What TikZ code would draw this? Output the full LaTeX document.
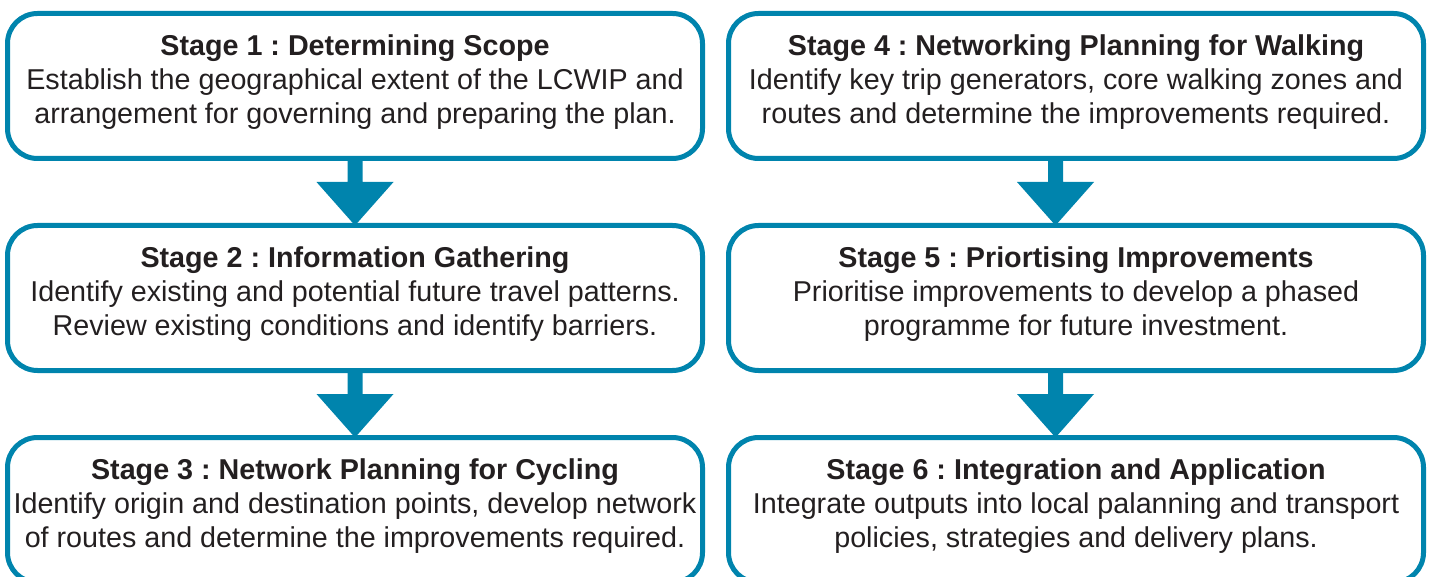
\documentclass[tikz,border=0pt]{standalone}
\usepackage{fontspec}
\setmainfont{Liberation Sans}
\frenchspacing
\usetikzlibrary{positioning,calc}
\definecolor{StageClr}{RGB}{0,132,173}
\definecolor{TextClr}{RGB}{35,31,32}

\tikzset{
  stagebox/.style={draw=StageClr,line width=5pt,rounded corners=30pt,
    minimum width=695pt,minimum height=145pt,outer sep=0pt,inner sep=0pt,
    align=center,text=TextClr,font=\fontsize{28.7}{34}\selectfont,
    execute at end node={\rule[-13pt]{0pt}{13pt}}},
}

% block arrow from one stage down to the next, [#1] shifts it sideways
\newcommand\stagearrow[3][0]{%
  \fill[StageClr] ($(#2.south)+(#1-7.5,0)$) -- ($(#2.south)+(#1+7.5,0)$)
    -- ($(#2.south)+(#1+7.5,23.5)$) -- ($(#2.south)+(#1+38.5,23.5)$)
    -- ($(#3.north)+(#1,0)$) -- ($(#2.south)+(#1-38.5,23.5)$)
    -- ($(#2.south)+(#1-7.5,23.5)$) -- cycle;}

\begin{document}
\begin{tikzpicture}[x=1pt,y=-1pt]
\path[use as bounding box,clip] (0,0) rectangle (1432,577);

\node[stagebox] (s1) at (355,86) {\textbf{Stage 1 : Determining Scope}\\
  Establish the geographical extent of the LCWIP and\\
  arrangement for governing and preparing the plan.};
\node[stagebox,below=67pt of s1] (s2) {\textbf{Stage 2 : Information Gathering}\\
  Identify existing and potential future travel patterns.\\
  Review existing conditions and identify barriers.};
\node[stagebox,below=67pt of s2] (s3) {\textbf{Stage 3 : Network Planning for Cycling}\\
  Identify origin and destination points, develop network\\
  of routes and determine the improvements required.};

\node[stagebox,right=26pt of s1] (s4) {\textbf{Stage 4 : Networking Planning for Walking}\\
  Identify key trip generators, core walking zones and\\
  routes and determine the improvements required.};
\node[stagebox,below=67pt of s4] (s5) {\textbf{Stage 5 : Priortising Improvements}\\
  Prioritise improvements to develop a phased\\
  programme for future investment.};
\node[stagebox,below=67pt of s5] (s6) {\textbf{Stage 6 : Integration and Application}\\
  Integrate outputs into local palanning and transport\\
  policies, strategies and delivery plans.};

\stagearrow{s1}{s2}
\stagearrow{s2}{s3}
\stagearrow[-20.5]{s4}{s5}
\stagearrow[-20.5]{s5}{s6}

\end{tikzpicture}
\end{document}
